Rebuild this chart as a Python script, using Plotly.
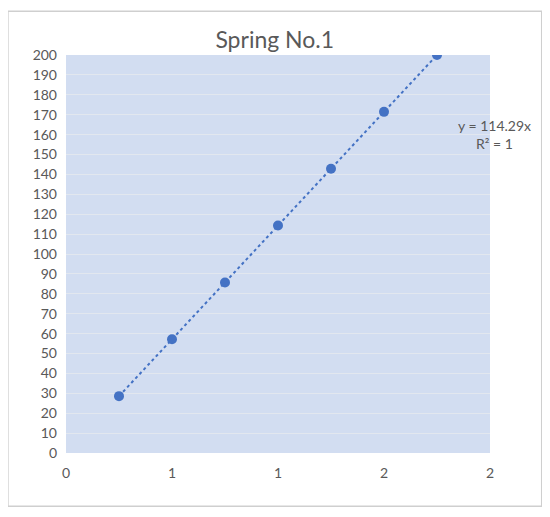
import plotly.graph_objects as go

# spring data: extension vs load
extension = [0.25, 0.5, 0.75, 1.0, 1.25, 1.5, 1.75]
load = [28.57, 57.14, 85.71, 114.29, 142.86, 171.43, 200.0]

x_tick_vals = [0, 0.5, 1.0, 1.5, 2.0]
x_tick_text = ["0", "1", "1", "2", "2"]
y_tick_vals = list(range(0, 201, 10))

BLUE = "#4472C4"
TEXT = "#595959"
FONT = "Lato"

fig = go.Figure()

# dotted linear trendline through the points
fig.add_trace(go.Scatter(
    x=extension, y=load,
    mode="lines",
    line=dict(color=BLUE, width=2, dash="dot"),
    hoverinfo="skip",
    showlegend=False,
))

fig.add_trace(go.Scatter(
    x=extension, y=load,
    mode="markers",
    marker=dict(color=BLUE, size=10),
    showlegend=False,
))

# trendline equation, just right of the plot area
fig.add_annotation(
    x=1.01, y=0.8, xref="paper", yref="paper",
    xanchor="center", yanchor="middle",
    text="y = 114.29x<br>R² = 1",
    showarrow=False, align="center",
    font=dict(family=FONT, size=14, color=TEXT),
)

# outer chart border
fig.add_shape(
    type="rect", xref="paper", yref="paper",
    x0=-0.137, x1=1.122, y0=-0.134, y1=1.11,
    line=dict(color="#cfcfcf", width=1.5),
    layer="below",
)

fig.update_layout(
    width=550, height=517,
    margin=dict(l=58, r=68, t=47, b=72),
    paper_bgcolor="white",
    plot_bgcolor="#d2ddf1",
    title=dict(
        text="Spring No.1",
        x=0.485, xanchor="center",
        y=0.938, yanchor="middle",
        font=dict(family=FONT, size=23, color=TEXT),
    ),
    font=dict(family=FONT, size=13, color=TEXT),
)

fig.update_xaxes(
    range=[0, 2],
    tickvals=x_tick_vals, ticktext=x_tick_text,
    showgrid=False, zeroline=False, showline=False,
    ticks="", ticklabelstandoff=10,
    tickfont=dict(size=14, color=TEXT),
)
fig.update_yaxes(
    range=[0, 200],
    tickvals=y_tick_vals,
    showgrid=True, gridcolor="#e2e7ef", gridwidth=1,
    zeroline=False, showline=False,
    ticks="", ticklabelstandoff=8,
    tickfont=dict(size=14, color=TEXT),
)

fig.write_html("out.html")
